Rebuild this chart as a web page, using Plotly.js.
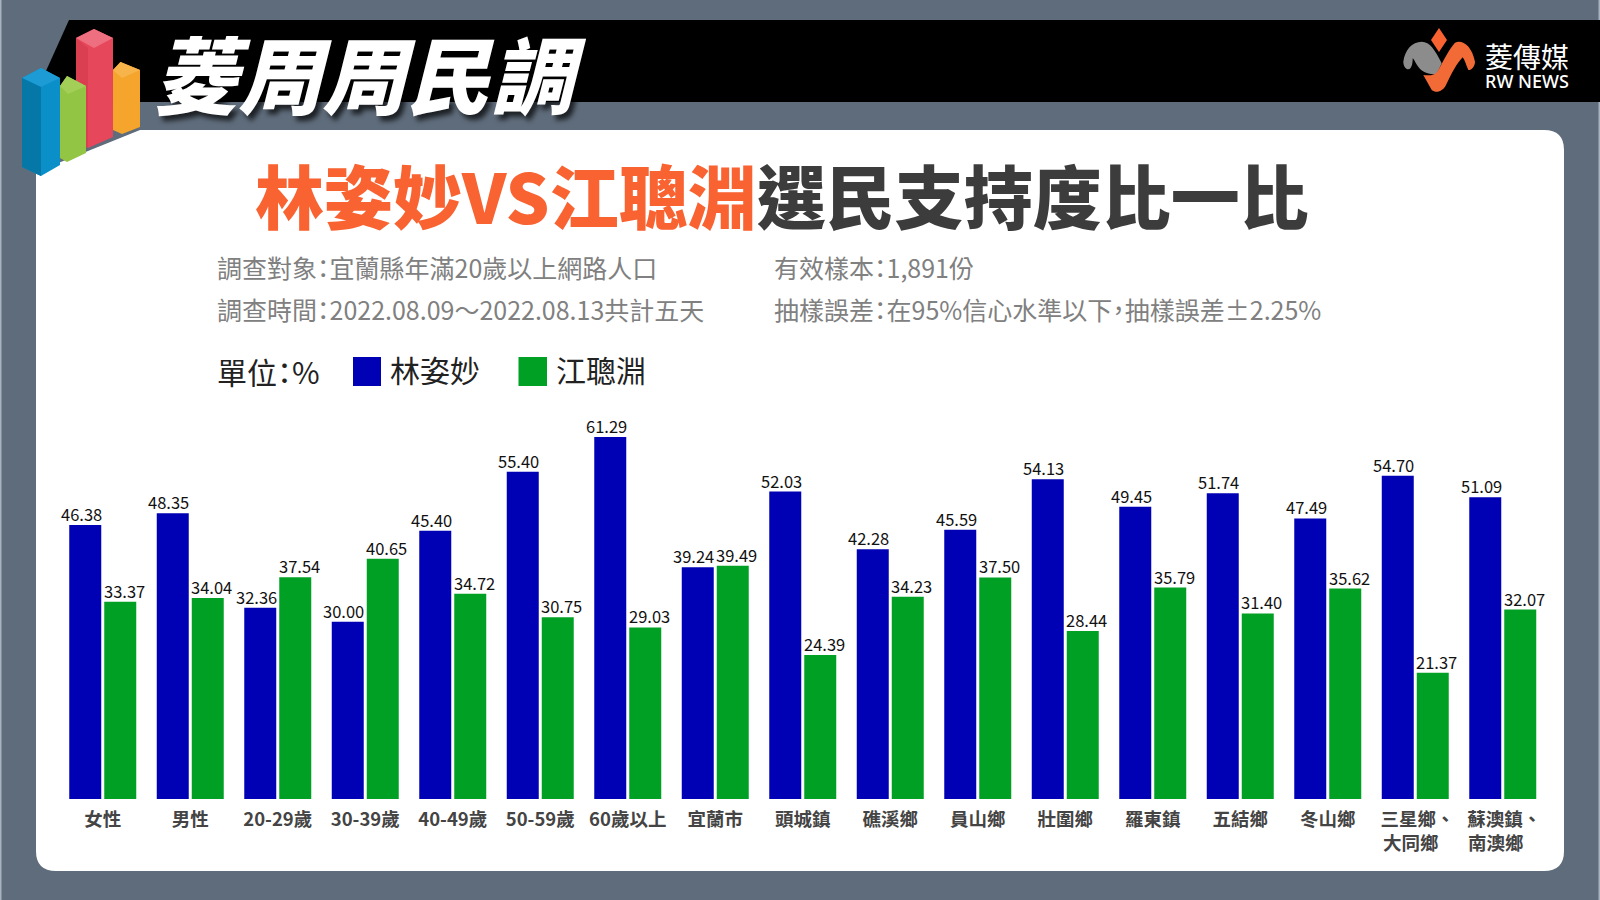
<!DOCTYPE html>
<html><head><meta charset="utf-8">
<script src="https://cdn.plot.ly/plotly-3.0.1.min.js"></script>
<style>
html,body{margin:0;padding:0;background:#5f6c7b}
#c{width:1600px;height:900px}
.annotation text{font-feature-settings:"palt"}
</style></head><body><div id="c"></div>
<script>
const categories=['女性','男性','20-29歲','30-39歲','40-49歲','50-59歲','60歲以上','宜蘭市','頭城鎮','礁溪鄉','員山鄉','壯圍鄉','羅東鎮','五結鄉','冬山鄉','三星鄉、大同鄉','蘇澳鎮、南澳鄉'];
const tickLabels=['女性','男性','20-29歲','30-39歲','40-49歲','50-59歲','60歲以上','宜蘭市','頭城鎮','礁溪鄉','員山鄉','壯圍鄉','羅東鎮','五結鄉','冬山鄉','\u2005三星鄉、<br>大同鄉\u2002','\u2006蘇澳鎮、<br>南澳鄉\u2002\u2005'];
const linValues=[46.38,48.35,32.36,30.00,45.40,55.40,61.29,39.24,52.03,42.28,45.59,54.13,49.45,51.74,47.49,54.70,51.09];
const jiangValues=[33.37,34.04,37.54,40.65,34.72,30.75,29.03,39.49,24.39,34.23,37.50,28.44,35.79,31.40,35.62,21.37,32.07];
const seriesNames=['林姿妙','江聰淵'];
const BLUE='#0000b4',GREEN='#00a024',ORANGE='#f96332',SLATE='#5f6c7b';
const CJK='"Noto Sans CJK TC","Noto Sans",sans-serif';
const X=x=>x/1600, Y=y=>1-y/900;
const P=d=>d.replace(/(-?[\d.]+),(-?[\d.]+)/g,(m,a,b)=>X(+a).toFixed(5)+','+Y(+b).toFixed(5));
const sh=(d,fill)=>({type:'path',xref:'paper',yref:'paper',layer:'below',path:P(d),fillcolor:fill,line:{width:0}});
const shapes=[
 sh('M0,0 L1.5,0 L1.5,900 L0,900 Z','#a9b3bf'),
 sh('M1598.5,0 L1600,0 L1600,900 L1598.5,900 Z','#a9b3bf'),
 sh('M69,20 L1600,20 L1600,102 L32,102 Z','#000000'),
 sh('M140,130 L1544,130 Q1564,130 1564,150 L1564,851 Q1564,871 1544,871 L56,871 Q36,871 36,851 L36,172 Z','#ffffff'),
 // orange block
 sh('M113,70 L120.5,62 L140,70 L140,127 L122,134 L113,130 Z','#f5a52c'),
 sh('M113,70 L120.5,62 L140,70 L122,78 Z','#f7b44a'),
 // red block
 sh('M76,38 L94,29 L113,38 L113,137 L88,148 L76,140 Z','#e6475a'),
 sh('M76,38 L94,29 L113,38 L94,48 Z','#ee7080'),
 sh('M76,38 L88,48 L88,148 L76,140 Z','#d93f50'),
 // green block
 sh('M60,86 L67,76 L86,86 L86,153 L67,162 L60,158 Z','#93c544'),
 sh('M60,86 L67,76 L86,86 L68,94 Z','#a3ce58'),
 // blue block
 sh('M22,78 L41,68 L60,78 L60,165 L41,176 L22,167 Z','#0a8fc9'),
 sh('M22,78 L41,68 L60,78 L41,87 Z','#1d9bd4'),
 sh('M22,78 L41,87 L41,176 L22,167 Z','#0678a8'),
 // publisher mark
 sh('M1439,28 L1447,40 L1439,52 L1431,40 Z',ORANGE),
 sh('M1403.3,61.7 C1405,50 1412,41.7 1421.7,41.7 C1430,41.7 1435,50 1441.7,63.3 L1436.7,74 C1428,75 1421,71.7 1417,65 C1415,61.7 1414,59.3 1412.7,58.3 C1412.7,63.3 1411.7,69.3 1408.3,69.3 C1405,69.3 1403.3,65 1403.3,61.7 Z','#8c8c8c'),
 sh('M1423.3,75 C1430,76 1435,75 1437.3,71.7 C1443.3,61.7 1448.3,50 1455,42.7 C1461.7,39.3 1471.7,45 1475,61.7 C1475,66.7 1470.7,70.7 1468.3,70 C1466,65 1465,60 1462.7,57.3 C1456.7,63.3 1451.7,73.3 1446,85 C1443.3,90.7 1436.7,94 1431.7,90 Z','#f26a35'),
 // legend swatches
 sh('M353,357 L381,357 L381,386 L353,386 Z',BLUE),
 sh('M518.5,357 L547,357 L547,386 L518.5,386 Z',GREEN)
];
const label=(text,x,y,size,color,extra)=>Object.assign({xref:'paper',yref:'paper',x:X(x),y:Y(y),text,showarrow:false,xanchor:'left',yanchor:'middle',align:'left',borderpad:0,
  font:{family:CJK,size,color}},extra||{});
const annotations=[
 label('菱周周民調',153,72,84,'#ffffff',{font:{family:CJK,size:84,color:'#ffffff',weight:900,style:'italic',shadow:'4px 5px 5px rgba(0,0,0,0.7)'}}),
 label('<span style="color:'+ORANGE+'">林姿妙VS江聰淵</span>選民支持度比一比',254,194,69,'#3c3c3c',{font:{family:CJK,size:69,color:'#3c3c3c',weight:900}}),
 label('調查對象：宜蘭縣年滿20歲以上網路人口',216,267,25,'#808080'),
 label('調查時間：2022.08.09～2022.08.13共計五天',216,308.5,25,'#808080'),
 label('有效樣本：1,891份',773,267,25,'#808080'),
 label('抽樣誤差：在95%信心水準以下，抽樣誤差±2.25%',773,308.5,25,'#808080'),
 label('單位：%',216,371,30,'#222222'),
 label(seriesNames[0],389,369,30,'#222222'),
 label(seriesNames[1],555,369,30,'#222222'),
 label('菱傳媒',1484,56,28,'#ffffff'),
 label('RW NEWS',1484,81.5,18,'#ffffff',{font:{family:'"Noto Sans",sans-serif',size:18,color:'#ffffff',weight:500}})
];
const dataLabels=(vals,shift)=>vals.map((v,i)=>({xref:'x',yref:'y',x:categories[i],y:v,text:v.toFixed(2),showarrow:false,xanchor:'center',yanchor:'bottom',xshift:shift,yshift:-2,borderpad:0,
  font:{family:CJK,size:16.5,color:'#111111'}}));
annotations.push(...dataLabels(linValues,-21.5),...dataLabels(jiangValues,21.5));
const traces=[
 {type:'bar',name:seriesNames[0],x:categories,y:linValues,marker:{color:BLUE},cliponaxis:false},
 {type:'bar',name:seriesNames[1],x:categories,y:jiangValues,marker:{color:GREEN},cliponaxis:false}
];
const layout={width:1600,height:900,margin:{l:0,r:0,t:0,b:0},paper_bgcolor:SLATE,plot_bgcolor:'rgba(0,0,0,0)',
 showlegend:false,barmode:'group',bargap:0.2,bargroupgap:0.086,shapes,annotations,
 xaxis:{domain:[59/1600,1546.5/1600],type:'category',categoryorder:'array',categoryarray:categories,tickmode:'array',tickvals:categories,ticktext:tickLabels,tickangle:0,
   showgrid:false,zeroline:false,showline:false,ticks:'outside',ticklen:4,tickcolor:'rgba(0,0,0,0)',automargin:false,
   tickfont:{family:CJK,size:18.5,color:'#444444',weight:700}},
 yaxis:{domain:[Y(799),Y(385.44)],range:[0,70],visible:false,showgrid:false,zeroline:false,automargin:false}
};
Plotly.newPlot('c',traces,layout,{displayModeBar:false,staticPlot:true});
</script></body></html>
